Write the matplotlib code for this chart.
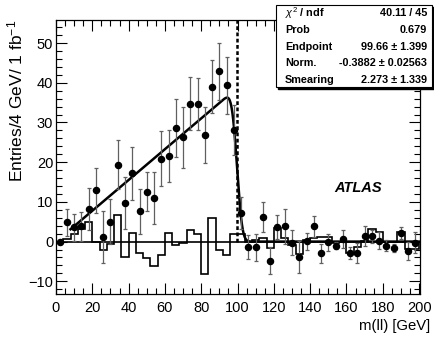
import numpy as np
import matplotlib
matplotlib.use("Agg")
import matplotlib.pyplot as plt
from matplotlib.patches import Rectangle
from matplotlib.ticker import MultipleLocator
from math import erf, sqrt, pi, exp

# ---- data ----
bin_centers = np.arange(2, 200, 4)
points_y = [0.0, 4.9, 3.6, 3.8, 8.1, 12.9, 1.1, 5.0, 19.4, 9.7,
            17.2, 7.6, 12.6, 10.9, 20.9, 21.5, 28.7, 26.3, 34.7, 34.7,
            26.9, 39.0, 42.9, 39.4, 28.0, 7.2, -1.3, -1.4, 6.1, -4.8,
            3.6, 3.8, -0.3, -3.8, 0.1, 3.8, -3.0, -0.2, -1.0, 0.7,
            -2.9, -2.9, 1.3, 1.3, 0.25, -1.0, -1.6, 2.1, -2.4, -0.3]
points_err = [0.5, 3.4, 3.4, 3.6, 5.3, 5.6, 6.5, 5.6, 6.2, 6.5,
              6.7, 5.7, 4.9, 6.5, 7.0, 6.6, 7.3, 7.7, 6.7, 6.5,
              7.0, 6.7, 7.2, 7.2, 6.3, 4.0, 3.0, 3.4, 3.8, 3.4,
              3.0, 4.4, 3.1, 4.0, 2.1, 2.7, 2.3, 2.1, 0.8, 2.2,
              1.5, 2.5, 2.5, 1.7, 2.1, 1.3, 1.0, 1.5, 2.3, 2.7]
hist_edges = np.arange(0, 204, 4)
hist_vals = [0.0, 0.7, 1.8, 3.2, 4.9, 0.0, -2.1, -0.5, 6.7, -4.0,
             2.2, -2.8, -4.1, -6.1, -3.3, 2.2, -0.8, -0.3, 2.9, 2.0,
             -8.2, 6.0, -2.0, -3.5, 1.9, 1.9, 0.0, 0.3, 0.9, -1.6,
             3.5, 0.8, -0.8, -3.1, 0.4, 0.8, 1.1, 1.1, -0.3, 0.0,
             -3.0, -1.4, 0.2, 3.2, 2.4, 0.0, 0.0, 2.4, -1.8, -1.8]

# fit parameters (from stats box)
endpoint = 99.66
norm = -0.3882
smearing = 2.273
fit_range = (8, 200)

stats_labels = [r"$\chi^2$ / ndf", "Prob", "Endpoint", "Norm.", "Smearing"]
stats_values = ["40.11 / 45", "0.679", "99.66 \u00b1 1.399",
                "-0.3882 \u00b1 0.02563", "2.273 \u00b1 1.339"]

x_ticks = list(range(0, 201, 20))
y_ticks = [-10, 0, 10, 20, 30, 40, 50]


def Phi(z):
    return 0.5 * (1 + erf(z / sqrt(2)))


def phi(z):
    return exp(-z * z / 2) / sqrt(2 * pi)


def fitfunc(m):
    a, E, s = -norm, endpoint, smearing
    return a * (m * (Phi((E - m) / s) - Phi(-m / s)) + s * (phi(m / s) - phi((E - m) / s)))


plt.rcParams['font.family'] = ['Liberation Sans', 'DejaVu Sans']
plt.rcParams['mathtext.fontset'] = 'custom'
plt.rcParams['mathtext.rm'] = 'Liberation Sans'
plt.rcParams['mathtext.it'] = 'Liberation Sans:italic'
plt.rcParams['mathtext.bf'] = 'Liberation Sans:bold'

W, H = 435, 338
fig = plt.figure(figsize=(W / 100, H / 100), dpi=100)
L, R, T, B = 56, 420, 20, 294
ax = fig.add_axes([L / W, 1 - B / H, (R - L) / W, (B - T) / H])

ax.set_xlim(0, 200.5)
ax.set_ylim(-13.2, 55.8)

ax.axhline(0, color='black', lw=1.2, zorder=2)
ax.stairs(hist_vals, hist_edges, color='black', lw=1.2, zorder=3)

mm = np.linspace(fit_range[0], fit_range[1], 800)
ax.plot(mm, [fitfunc(v) for v in mm], color='black', lw=1.8, zorder=4)

ax.axvline(endpoint, ymin=(0 - (-13.2)) / (55.8 + 13.2), ymax=1, color='black',
           lw=1.8, ls=(0, (1.5, 1.0)), zorder=4)

ax.errorbar(bin_centers, points_y, yerr=points_err, fmt='o', color='black',
            ms=4.4, ecolor='#606060', elinewidth=0.9, capsize=1.5, capthick=0.9, zorder=5)

ax.text(153.5, 13.4, 'ATLAS', fontsize=10.5, fontweight='bold', fontstyle='italic',
        ha='left', va='center')

ax.set_xticks(x_ticks)
ax.set_yticks(y_ticks)
ax.xaxis.set_minor_locator(MultipleLocator(5))
ax.yaxis.set_minor_locator(MultipleLocator(2))
ax.tick_params(which='both', direction='in', top=True, right=True, labelsize=10.5, width=0.8)
ax.tick_params(which='major', length=8)
ax.tick_params(which='minor', length=4)
ax.tick_params(axis='x', pad=5)
ax.tick_params(axis='y', pad=2)
for s in ax.spines.values():
    s.set_linewidth(0.9)

fig.text(15 / W, 1 - 20 / H, 'Entries/4 GeV/ 1 fb$^{-1}$', rotation=90, ha='center',
         va='top', fontsize=12.5)
fig.text(430 / W, 1 - 326 / H, 'm(ll) [GeV]', ha='right', va='center', fontsize=10.7)

# stats box
bx0, bx1, by0, by1 = 276, 432, 5, 87
fig.add_artist(Rectangle(((bx0 + 2) / W, 1 - (by1 + 2) / H), (bx1 - bx0) / W, (by1 - by0) / H,
                         transform=fig.transFigure, facecolor='black', edgecolor='black',
                         zorder=10))
fig.add_artist(Rectangle((bx0 / W, 1 - by1 / H), (bx1 - bx0) / W, (by1 - by0) / H,
                         transform=fig.transFigure, facecolor='white', edgecolor='black',
                         lw=0.8, zorder=11))
row_y = [13, 30, 47, 63, 80]
for lab, val, yy in zip(stats_labels, stats_values, row_y):
    fig.text(285 / W, 1 - yy / H, lab, ha='left', va='center', fontsize=7.8,
             fontweight='bold', zorder=12)
    fig.text(427 / W, 1 - yy / H, val, ha='right', va='center', fontsize=7.8,
             fontweight='bold', zorder=12)

fig.savefig('out.png', dpi=100)
